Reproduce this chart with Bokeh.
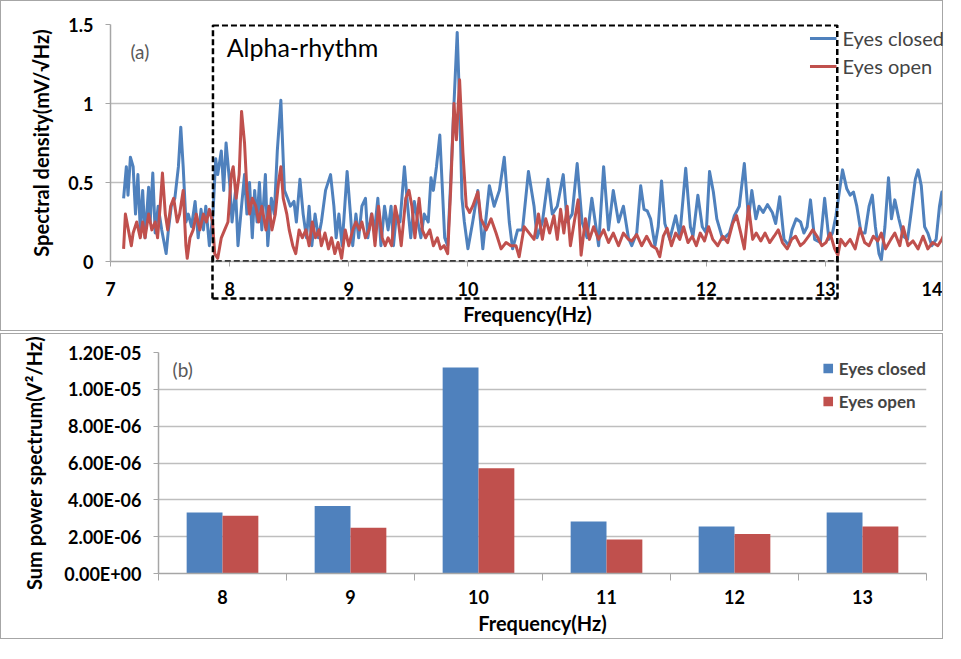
from bokeh.plotting import figure
from bokeh.models import (BoxAnnotation, Label, Legend, LegendItem, FixedTicker, LinearAxis,
                          CustomJSTickFormatter, ColumnDataSource, Range1d)
from bokeh.layouts import column
from bokeh.embed import file_html
from bokeh.resources import INLINE
from bokeh.transform import dodge

# ---------------- data: panel (a) spectral density ----------------
closed_f = [7.11, 7.133, 7.147, 7.167, 7.19, 7.21, 7.23, 7.25, 7.27, 7.29, 7.32, 7.333, 7.355, 7.375,
            7.40, 7.43, 7.467, 7.486, 7.51, 7.54, 7.57, 7.59, 7.61, 7.633, 7.653, 7.68, 7.71, 7.736,
            7.76, 7.78, 7.80, 7.83, 7.86, 7.883, 7.90, 7.93, 7.95, 7.97, 8.0, 8.02, 8.05, 8.07, 8.10,
            8.125, 8.145, 8.167, 8.19, 8.21, 8.23, 8.25, 8.27, 8.30, 8.32, 8.35, 8.375, 8.40, 8.43,
            8.46, 8.486, 8.51, 8.54, 8.56, 8.59, 8.617, 8.645, 8.667, 8.69, 8.717, 8.745, 8.77, 8.805,
            8.847, 8.875, 8.894, 8.917, 8.944, 8.986, 9.014, 9.033, 9.06, 9.083, 9.11, 9.14, 9.16,
            9.19, 9.217, 9.244, 9.27, 9.30, 9.33, 9.355, 9.375, 9.40, 9.43, 9.467, 9.494, 9.52, 9.55,
            9.58, 9.605, 9.633, 9.667, 9.69, 9.71, 9.736, 9.764, 9.783, 9.805, 9.83, 9.855, 9.883,
            9.91, 9.93, 9.95, 9.97, 10.0, 10.04, 10.083, 10.125, 10.18, 10.22, 10.264, 10.305, 10.347,
            10.375, 10.417, 10.458, 10.508, 10.555, 10.58, 10.625, 10.672, 10.708, 10.75, 10.80,
            10.833, 10.875, 10.917, 10.958, 11.0, 11.04, 11.097, 11.139, 11.18, 11.22, 11.264, 11.305,
            11.347, 11.375, 11.417, 11.45, 11.478, 11.505, 11.533, 11.57, 11.597, 11.625, 11.653,
            11.694, 11.744, 11.778, 11.828, 11.867, 11.889, 11.93, 11.967, 12.0, 12.028, 12.06,
            12.089, 12.139, 12.194, 12.236, 12.278, 12.32, 12.355, 12.383, 12.417, 12.444, 12.478,
            12.514, 12.555, 12.583, 12.617, 12.653, 12.694, 12.72, 12.755, 12.792, 12.82, 12.847,
            12.875, 12.91, 12.958, 12.994, 13.03, 13.06, 13.089, 13.117, 13.144, 13.18, 13.208,
            13.236, 13.264, 13.3, 13.333, 13.367, 13.394, 13.42, 13.45, 13.47, 13.5, 13.53, 13.555,
            13.583, 13.617, 13.653, 13.69, 13.72, 13.755, 13.778, 13.805, 13.833, 13.86, 13.894,
            13.93, 13.958, 13.978, 14.0]
closed_v = [0.40, 0.60, 0.42, 0.66, 0.60, 0.30, 0.55, 0.20, 0.45, 0.15, 0.47, 0.25, 0.56, 0.18,
            0.35, 0.20, 0.05, 0.20, 0.35, 0.40, 0.60, 0.85, 0.60, 0.25, 0.30, 0.22, 0.38, 0.15,
            0.33, 0.20, 0.35, 0.10, 0.30, 0.65, 0.55, 0.70, 0.45, 0.75, 0.50, 0.25, 0.45, 0.10, 0.35,
            0.55, 0.30, 0.50, 0.15, 0.45, 0.25, 0.50, 0.20, 0.55, 0.10, 0.40, 0.30, 0.70, 1.02,
            0.45, 0.40, 0.35, 0.38, 0.25, 0.52, 0.30, 0.15, 0.35, 0.10, 0.30, 0.15, 0.25, 0.45,
            0.55, 0.35, 0.15, 0.30, 0.10, 0.57, 0.30, 0.10, 0.30, 0.15, 0.35, 0.40, 0.15,
            0.30, 0.20, 0.40, 0.10, 0.35, 0.20, 0.35, 0.10, 0.30, 0.25, 0.60, 0.35, 0.15, 0.38,
            0.25, 0.15, 0.30, 0.25, 0.53, 0.45, 0.60, 0.80, 0.50, 0.15, 0.10, 0.50, 1.00,
            1.45, 1.00, 0.40, 0.25, 0.08, 0.25, 0.45, 0.08, 0.48, 0.35, 0.45, 0.66, 0.25,
            0.08, 0.20, 0.20, 0.57, 0.35, 0.15, 0.25, 0.52, 0.30, 0.35, 0.55,
            0.25, 0.30, 0.62, 0.25, 0.15, 0.40, 0.10, 0.60, 0.20, 0.45, 0.25, 0.35,
            0.15, 0.10, 0.18, 0.48, 0.33, 0.32, 0.27, 0.10, 0.22, 0.51, 0.24,
            0.14, 0.29, 0.16, 0.59, 0.22, 0.16, 0.42, 0.22, 0.18, 0.57, 0.44,
            0.27, 0.14, 0.18, 0.29, 0.35, 0.62, 0.27, 0.45, 0.27, 0.35, 0.31,
            0.36, 0.31, 0.24, 0.41, 0.14, 0.10, 0.20, 0.27, 0.25, 0.18, 0.22,
            0.39, 0.14, 0.12, 0.40, 0.14, 0.18, 0.29, 0.44, 0.58, 0.46, 0.42,
            0.44, 0.35, 0.18, 0.18, 0.35, 0.42, 0.22, 0.05, 0.01, 0.22, 0.53, 0.27,
            0.39, 0.27, 0.16, 0.14, 0.31, 0.52, 0.58, 0.48, 0.22, 0.18, 0.10,
            0.14, 0.35, 0.44, 0.20]

open_f = [7.11, 7.125, 7.15, 7.175, 7.19, 7.22, 7.25, 7.27, 7.29, 7.32, 7.347, 7.375, 7.395, 7.417,
          7.436, 7.46, 7.48, 7.505, 7.53, 7.56, 7.58, 7.61, 7.633, 7.644, 7.667, 7.694, 7.72, 7.75,
          7.78, 7.805, 7.83, 7.856, 7.875, 7.90, 7.93, 7.958, 7.986, 8.014, 8.03, 8.055, 8.08, 8.10,
          8.125, 8.145, 8.167, 8.19, 8.22, 8.244, 8.27, 8.305, 8.33, 8.355, 8.383, 8.41, 8.43, 8.45,
          8.48, 8.50, 8.53, 8.555, 8.583, 8.61, 8.64, 8.667, 8.694, 8.72, 8.75, 8.77, 8.80, 8.83,
          8.855, 8.883, 8.91, 8.94, 8.97, 9.0, 9.033, 9.06, 9.09, 9.11, 9.14, 9.17, 9.194, 9.22,
          9.25, 9.28, 9.305, 9.33, 9.36, 9.39, 9.417, 9.44, 9.478, 9.505, 9.53, 9.555, 9.59, 9.617,
          9.645, 9.68, 9.71, 9.744, 9.77, 9.80, 9.83, 9.855, 9.883, 9.903, 9.93, 9.958, 9.986,
          10.014, 10.04, 10.083, 10.11, 10.153, 10.194, 10.236, 10.278, 10.32, 10.36, 10.403, 10.43,
          10.472, 10.514, 10.555, 10.592, 10.625, 10.653, 10.686, 10.722, 10.75, 10.778, 10.805,
          10.833, 10.86, 10.897, 10.925, 10.95, 10.986, 11.02, 11.055, 11.097, 11.139, 11.18, 11.22,
          11.264, 11.305, 11.347, 11.375, 11.417, 11.458, 11.5, 11.542, 11.583, 11.61, 11.64,
          11.672, 11.708, 11.744, 11.778, 11.81, 11.847, 11.883, 11.917, 11.95, 11.986, 12.02,
          12.055, 12.097, 12.139, 12.18, 12.222, 12.255, 12.29, 12.32, 12.355, 12.39, 12.42, 12.458,
          12.494, 12.533, 12.57, 12.605, 12.64, 12.68, 12.717, 12.75, 12.79, 12.82, 12.86, 12.894,
          12.93, 12.97, 13.005, 13.04, 13.078, 13.105, 13.13, 13.167, 13.208, 13.25, 13.29, 13.33,
          13.367, 13.403, 13.44, 13.47, 13.505, 13.55, 13.583, 13.625, 13.653, 13.694, 13.736,
          13.778, 13.82, 13.86, 13.9, 13.944, 13.978, 14.0]
open_v = [0.08, 0.30, 0.20, 0.10, 0.18, 0.25, 0.15, 0.25, 0.15, 0.30, 0.20, 0.25, 0.15, 0.35,
          0.56, 0.30, 0.20, 0.35, 0.40, 0.25, 0.30, 0.45, 0.10, 0.02, 0.15, 0.20, 0.30, 0.20,
          0.30, 0.25, 0.33, 0.25, 0.05, 0.02, 0.15, 0.20, 0.25, 0.55, 0.60, 0.40, 0.55, 0.95,
          0.75, 0.45, 0.30, 0.40, 0.35, 0.25, 0.35, 0.20, 0.35, 0.20, 0.30, 0.50, 0.60, 0.40,
          0.30, 0.20, 0.10, 0.05, 0.20, 0.15, 0.20, 0.10, 0.25, 0.15, 0.20, 0.10, 0.18, 0.08,
          0.15, 0.05, 0.12, 0.02, 0.20, 0.10, 0.20, 0.25, 0.20, 0.25, 0.15, 0.20, 0.30, 0.10,
          0.35, 0.15, 0.10, 0.15, 0.10, 0.35, 0.25, 0.10, 0.40, 0.45, 0.35, 0.15, 0.40, 0.20,
          0.15, 0.20, 0.10, 0.15, 0.08, 0.10, 0.05, 0.45, 1.00, 0.77, 1.15, 0.69, 0.35,
          0.31, 0.35, 0.44, 0.27, 0.20, 0.27, 0.18, 0.08, 0.12, 0.10, 0.10, 0.03,
          0.22, 0.18, 0.14, 0.30, 0.14, 0.27, 0.18, 0.29, 0.14, 0.33, 0.18,
          0.35, 0.10, 0.27, 0.39, 0.04, 0.27, 0.14, 0.22, 0.14, 0.20, 0.12, 0.18,
          0.10, 0.18, 0.14, 0.13, 0.17, 0.10, 0.16, 0.10, 0.08, 0.03, 0.16,
          0.21, 0.10, 0.18, 0.14, 0.22, 0.12, 0.16, 0.10, 0.18, 0.13, 0.22,
          0.14, 0.10, 0.16, 0.12, 0.24, 0.29, 0.18, 0.08, 0.35, 0.14, 0.18, 0.13,
          0.18, 0.12, 0.16, 0.20, 0.12, 0.08, 0.14, 0.16, 0.10, 0.12, 0.16, 0.20,
          0.16, 0.10, 0.12, 0.18, 0.08, 0.04, 0.14, 0.10, 0.14, 0.08, 0.21, 0.12,
          0.10, 0.16, 0.13, 0.18, 0.08, 0.14, 0.18, 0.10, 0.22, 0.10, 0.13,
          0.08, 0.16, 0.08, 0.12, 0.10, 0.14, 0.18]

alpha_band = [7.86, 13.1]          # Hz, edges of the dashed "Alpha-rhythm" box

# ---------------- data: panel (b) sum power spectrum ----------------
bands = [8, 9, 10, 11, 12, 13]
closed_sum = [3.31e-6, 3.66e-6, 1.119e-5, 2.83e-6, 2.55e-6, 3.31e-6]
open_sum = [3.14e-6, 2.48e-6, 5.71e-6, 1.85e-6, 2.14e-6, 2.55e-6]
power_ticks = [0, 2e-6, 4e-6, 6e-6, 8e-6, 1e-5, 1.2e-5]
density_ticks = [0, 0.5, 1, 1.5]
freq_ticks = [7, 8, 9, 10, 11, 12, 13, 14]

BLUE = "#4F81BD"
RED = "#C0504D"
GRID = "#BEBEBE"
AXIS = "#A6A6A6"
FONT = "Lato"
BORDER = {"border": "1px solid #A6A6A6"}


def style_axes(p):
    for ax in (p.xaxis[0], p.yaxis[0]):
        ax.axis_line_color = AXIS
        ax.axis_line_width = 1.5
        ax.major_tick_line_color = AXIS
        ax.minor_tick_line_color = AXIS
        ax.major_label_text_font = FONT
        ax.major_label_text_font_style = "bold"
        ax.major_label_text_color = "black"
        ax.major_label_text_font_size = "18px"
        ax.axis_label_text_font = FONT
        ax.axis_label_text_font_style = "bold"
        ax.axis_label_text_color = "black"
        ax.axis_label_text_font_size = "20px"
    p.outline_line_color = None
    p.xgrid.visible = False
    p.ygrid.grid_line_color = GRID
    p.ygrid.grid_line_width = 1.5
    if "frame_align" in p.properties():
        p.frame_align = False


# ---------------- panel (a) ----------------
p1 = figure(width=943, height=331, output_backend="svg", toolbar_location=None,
            x_range=Range1d(freq_ticks[0], freq_ticks[-1]),
            y_range=Range1d(density_ticks[0], density_ticks[-1]),
            min_border_left=109, min_border_right=0, min_border_top=23, min_border_bottom=71,
            styles=BORDER)
style_axes(p1)
p1.xaxis.ticker = FixedTicker(ticks=freq_ticks)
p1.yaxis.ticker = FixedTicker(ticks=density_ticks)
p1.yaxis.formatter = CustomJSTickFormatter(code="return tick.toString();")
p1.xaxis.major_tick_out = 5
p1.xaxis.major_tick_in = 0
p1.yaxis.major_tick_out = 5
p1.yaxis.major_tick_in = 0
p1.xaxis.major_label_standoff = 15
p1.yaxis.major_label_standoff = 12
p1.yaxis.axis_label = "Spectral density(mV/\u221AHz)"
p1.yaxis.axis_label_standoff = 12

r_closed = p1.line(closed_f, closed_v, line_color=BLUE, line_width=3, line_join="round")
r_open = p1.line(open_f, open_v, line_color=RED, line_width=3, line_join="round")

# dashed "Alpha-rhythm" box: inside the frame ...
p1.add_layout(BoxAnnotation(left=alpha_band[0], right=alpha_band[1], top=1.495,
                            fill_alpha=0, line_alpha=1, line_color="black", line_width=2.5,
                            line_dash="6 3"))
# ... and its lower part, below the tick labels, drawn as a bounded axis
box_axis = LinearAxis(ticker=FixedTicker(ticks=alpha_band), bounds=(alpha_band[0], alpha_band[1]),
                      axis_line_color="black", axis_line_width=2.5, axis_line_dash="6 3",
                      major_tick_line_color="black", major_tick_line_width=2.5,
                      major_tick_line_dash="6 3", major_tick_in=42, major_tick_out=0,
                      minor_tick_line_color=None, major_label_standoff=0,
                      formatter=CustomJSTickFormatter(code="return '';"),
                      axis_label="Frequency(Hz)", axis_label_standoff=3,
                      axis_label_text_font=FONT, axis_label_text_font_style="bold",
                      axis_label_text_font_size="20px", axis_label_text_color="black")
p1.add_layout(box_axis, "below")

p1.add_layout(Label(x=7.975, y=1.355, text="Alpha-rhythm", text_baseline="middle",
                    text_font=FONT, text_font_size="25px", text_color="black"))
p1.add_layout(Label(x=7.167, y=1.33, text="(a)", text_baseline="middle",
                    text_font=FONT, text_font_size="19px", text_color="#595959"))

leg1 = Legend(items=[LegendItem(label="Eyes closed", renderers=[r_closed]),
                     LegendItem(label="Eyes open", renderers=[r_open])],
              location="top_right", border_line_color=None, background_fill_alpha=0,
              label_text_font=FONT, label_text_font_size="20px", glyph_width=27,
              glyph_height=28, label_height=28, spacing=0, padding=5, margin=0,
              label_standoff=6)
p1.add_layout(leg1)

# ---------------- panel (b) ----------------
src = ColumnDataSource(dict(freq=bands, closed=closed_sum, open=open_sum))
p2 = figure(width=943, height=306, output_backend="svg", toolbar_location=None,
            x_range=Range1d(bands[0] - 0.5, bands[-1] + 0.5),
            y_range=Range1d(power_ticks[0], power_ticks[-1]),
            min_border_left=157, min_border_right=18, min_border_top=18, min_border_bottom=67,
            styles=BORDER)
style_axes(p2)
p2.xaxis.ticker = FixedTicker(ticks=bands, minor_ticks=[b - 0.5 for b in bands] + [bands[-1] + 0.5])
p2.yaxis.ticker = FixedTicker(ticks=power_ticks)
p2.yaxis.formatter = CustomJSTickFormatter(code="""
const s = tick.toExponential(2);
const parts = s.split('e');
const n = parseInt(parts[1]);
const a = Math.abs(n);
return parts[0] + 'E' + (n < 0 ? '-' : '+') + (a < 10 ? '0' : '') + a;
""")
p2.xaxis.major_tick_out = 0
p2.xaxis.major_tick_in = 0
p2.xaxis.minor_tick_out = 7
p2.xaxis.minor_tick_in = 0
p2.yaxis.major_tick_out = 5
p2.yaxis.major_tick_in = 0
p2.yaxis.minor_tick_line_color = None
p2.xaxis.major_label_standoff = 9
p2.yaxis.major_label_standoff = 12
p2.xaxis.axis_label = "Frequency(Hz)"
p2.yaxis.axis_label = "Sum power spectrum(V\u00B2/Hz)"
p2.xaxis.axis_label_standoff = 4
p2.yaxis.axis_label_standoff = 15

b_closed = p2.vbar(x=dodge("freq", -0.14), top="closed", width=0.28, source=src,
                   fill_color=BLUE, line_color=None)
b_open = p2.vbar(x=dodge("freq", 0.14), top="open", width=0.28, source=src,
                 fill_color=RED, line_color=None)
p2.add_layout(Label(x=7.61, y=1.11e-5, text="(b)", text_baseline="middle",
                    text_font=FONT, text_font_size="19px", text_color="#595959"))

leg2 = Legend(items=[LegendItem(label="Eyes closed", renderers=[b_closed]),
                     LegendItem(label="Eyes open", renderers=[b_open])],
              location="top_right", border_line_color=None, background_fill_alpha=0,
              label_text_font=FONT, label_text_font_size="17px", label_text_font_style="bold",
              glyph_width=12, glyph_height=12, label_height=32, spacing=1, padding=4, margin=0,
              label_standoff=5)
p2.add_layout(leg2)

layout = column(p1, p2, spacing=2)
open("out.html", "w").write(file_html(layout, INLINE))
